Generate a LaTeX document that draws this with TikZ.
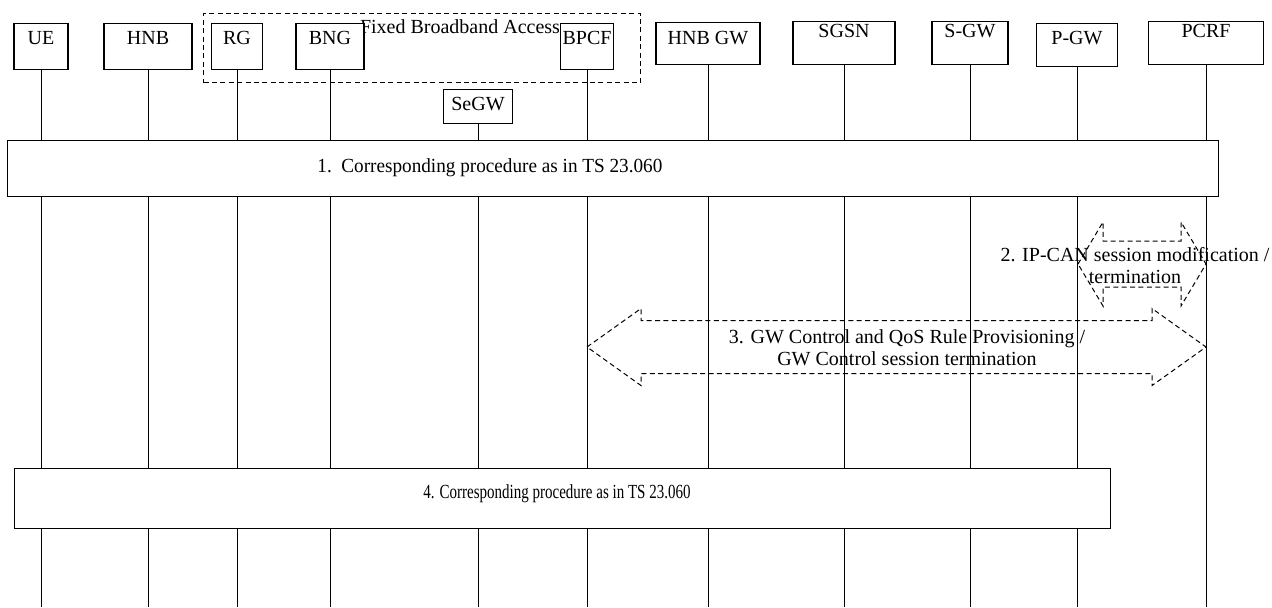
\documentclass[tikz,border=0pt]{standalone}
\usepackage{fontspec}
\setmainfont{Liberation Serif}
\usetikzlibrary{positioning}

\tikzset{
  ent/.style={draw, fill=white, line width=0.6pt, inner sep=0pt, anchor=north,
              font=\fontsize{10}{12}\selectfont},
  grp/.style={draw, dash pattern=on 2.5pt off 1.7pt, line width=0.6pt, inner sep=0pt, anchor=north west},
  proc/.style={draw, fill=white, line width=0.6pt, inner sep=0pt, anchor=north west},
  life/.style={line width=0.5pt},
  arr/.style={dash pattern=on 2.5pt off 1.7pt, line width=0.5pt},
  lbl/.style={font=\fontsize{10}{11}\selectfont, align=center, inner sep=0pt}
}

% block arrow: x1, x2, y centre, half shaft, half head, head length
\newcommand{\flowarrow}[6]{%
  \draw[arr] (#1,#3) -- (#1+#6,#3-#5) -- (#1+#6,#3-#4) -- (#2-#6,#3-#4)
    -- (#2-#6,#3-#5) -- (#2,#3) -- (#2-#6,#3+#5) -- (#2-#6,#3+#4)
    -- (#1+#6,#3+#4) -- (#1+#6,#3+#5) -- cycle;}

\begin{document}
\begin{tikzpicture}[x=0.5pt, y=-0.5pt]
  \useasboundingbox (0,0) rectangle (1272,607);

  % Fixed broadband access group
  \node[grp, minimum width=218.5pt, minimum height=34.5pt] (fba) at (203,13) {};
  \node[lbl] (fbatxt) at (460,27) {Fixed Broadband Access};

  % entities
  \node[ent, minimum width=27pt,   text height=10.3pt, text depth=12.7pt] (ue)    at (41,23)   {UE};
  \node[ent, minimum width=44pt,   text height=10.3pt, text depth=12.7pt] (hnb)   at (148,23)  {HNB};
  \node[ent, minimum width=25.5pt, text height=10.3pt, text depth=12.7pt] (rg)    at (237,23)  {RG};
  \node[ent, minimum width=34pt,   text height=10.3pt, text depth=12.7pt] (bng)   at (330,23)  {BNG};
  \node[ent, minimum width=26.5pt, text height=10.3pt, text depth=12.7pt] (bpcf)  at (587,23)  {BPCF};
  \node[ent, minimum width=34.5pt, text height=10.3pt, text depth=6.7pt]  (segw)  at (478,89)  {SeGW};
  \node[ent, minimum width=52pt,   text height=10.8pt, text depth=10.2pt] (hnbgw) at (708,22)  {HNB GW};
  \node[ent, minimum width=51pt,   text height=7.8pt,  text depth=13.7pt] (sgsn)  at (844,21)  {SGSN};
  \node[ent, minimum width=38pt,   text height=7.8pt,  text depth=13.7pt] (sgw)   at (970,21)  {S-GW};
  \node[ent, minimum width=40.5pt, text height=10.3pt, text depth=11.2pt] (pgw)   at (1077,23) {P-GW};
  \node[ent, minimum width=57.5pt, text height=7.8pt,  text depth=13.7pt] (pcrf)  at (1206,21) {PCRF};

  % lifelines
  \coordinate (bot) at (0,607);
  \foreach \n in {ue,hnb,rg,bng,segw,bpcf,hnbgw,sgsn,sgw,pgw,pcrf}
    \draw[life] (\n.south) -- (\n.south |- bot);

  % step 1
  \node[proc, minimum width=605.5pt, minimum height=28pt] (p1) at (7,140) {};
  \node[lbl, anchor=west] (p1txt) at (317,168) {\scalebox{0.96}[1]{1.\ \ Corresponding procedure as in TS 23.060}};

  % step 2
  \flowarrow{1078}{1206}{264}{23}{42}{25}
  \node[lbl] (s2txt) at (1135,266) {2. IP-CAN session modification /\\termination};

  % step 3
  \flowarrow{587}{1206}{347}{26.5}{38.5}{54}
  \node[lbl] (s3txt) at (907,348) {3. GW Control and QoS Rule Provisioning /\\GW Control session termination};

  % step 4
  \node[proc, minimum width=548pt, minimum height=30pt] (p4) at (14,468) {};
  \node[lbl] (p4txt) at (557,494) {\scalebox{0.75}[1]{4. Corresponding procedure as in TS 23.060}};
\end{tikzpicture}
\end{document}
